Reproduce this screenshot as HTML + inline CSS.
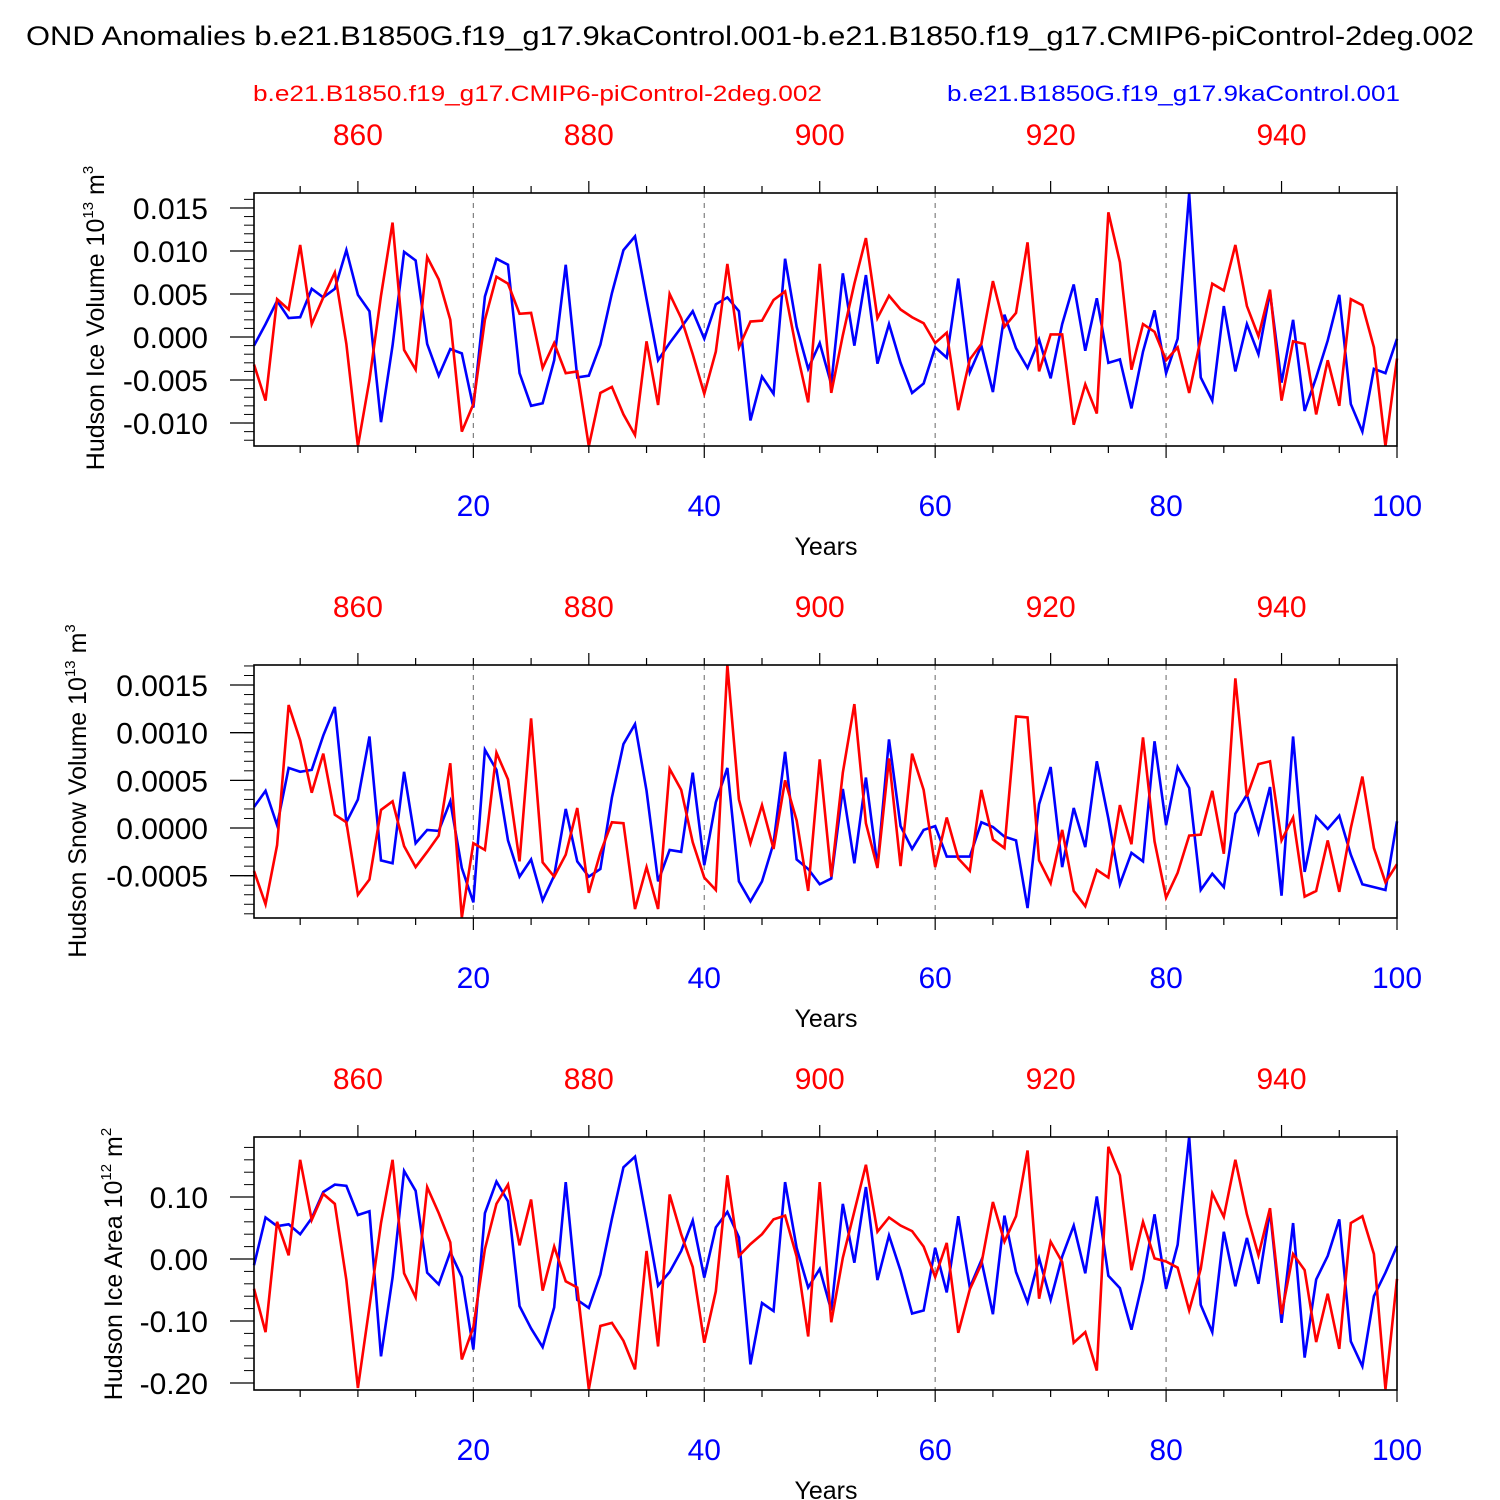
<!DOCTYPE html>
<html><head><meta charset="utf-8">
<style>
html,body{margin:0;padding:0;background:#fff;}
svg{display:block;font-family:"Liberation Sans",Arial,sans-serif;}
</style></head>
<body>
<svg id="chart" width="1500" height="1500" viewBox="0 0 1500 1500" xmlns="http://www.w3.org/2000/svg">
<rect width="1500" height="1500" fill="#fff"/>
<text x="750" y="45" text-anchor="middle" font-size="27" textLength="1448" lengthAdjust="spacingAndGlyphs">OND Anomalies b.e21.B1850G.f19_g17.9kaControl.001-b.e21.B1850.f19_g17.CMIP6-piControl-2deg.002</text>
<text x="253" y="101" font-size="22" fill="#ff0000" textLength="569" lengthAdjust="spacingAndGlyphs">b.e21.B1850.f19_g17.CMIP6-piControl-2deg.002</text>
<text x="947" y="101" font-size="22" fill="#0000ff" textLength="453" lengthAdjust="spacingAndGlyphs">b.e21.B1850G.f19_g17.9kaControl.001</text>
<g id="panels"></g>
</svg>
<script>
// ---- data ----
const bottomTickYears = [20, 40, 60, 80, 100];
const topTickYears = [860, 880, 900, 920, 940];
const yearOffset = 850;

const iceVolBlue = [-0.0010,0.0015,0.0042,0.0022,0.0023,0.0056,0.0046,0.0056,0.0101,0.0049,0.0030,-0.0099,-0.0010,0.0099,0.0089,-0.0008,-0.0045,-0.0014,-0.0019,-0.0082,0.0047,0.0091,0.0084,-0.0042,-0.0080,-0.0077,-0.0027,0.0084,-0.0047,-0.0045,-0.0009,0.0051,0.0101,0.0117,0.0044,-0.0027,-0.0007,0.0011,0.0030,-0.0002,0.0038,0.0046,0.0030,-0.0097,-0.0046,-0.0066,0.0091,0.0012,-0.0037,-0.0007,-0.0055,0.0074,-0.0010,0.0072,-0.0031,0.0015,-0.0030,-0.0065,-0.0054,-0.0012,-0.0024,0.0068,-0.0041,-0.0010,-0.0064,0.0026,-0.0013,-0.0036,-0.0003,-0.0048,0.0015,0.0061,-0.0016,0.0045,-0.0030,-0.0026,-0.0083,-0.0017,0.0031,-0.0042,-0.0002,0.0167,-0.0047,-0.0074,0.0036,-0.0040,0.0015,-0.0020,0.0052,-0.0053,0.0020,-0.0086,-0.0047,-0.0004,0.0049,-0.0078,-0.0110,-0.0037,-0.0042,-0.0002];
const iceVolRed = [-0.0032,-0.0074,0.0044,0.0032,0.0107,0.0015,0.0046,0.0075,-0.0008,-0.0127,-0.0050,0.0048,0.0133,-0.0015,-0.0038,0.0093,0.0067,0.0020,-0.0110,-0.0078,0.0020,0.0070,0.0062,0.0027,0.0028,-0.0036,-0.0007,-0.0042,-0.0040,-0.0127,-0.0065,-0.0058,-0.0090,-0.0114,-0.0005,-0.0079,0.0050,0.0022,-0.0020,-0.0066,-0.0017,0.0085,-0.0012,0.0018,0.0019,0.0043,0.0053,-0.0016,-0.0076,0.0085,-0.0065,0.0002,0.0062,0.0115,0.0022,0.0048,0.0032,0.0023,0.0016,-0.0007,0.0005,-0.0085,-0.0026,-0.0008,0.0065,0.0012,0.0028,0.0110,-0.0040,0.0003,0.0003,-0.0102,-0.0055,-0.0089,0.0145,0.0087,-0.0038,0.0015,0.0006,-0.0027,-0.0012,-0.0065,-0.0002,0.0062,0.0054,0.0107,0.0036,0.0001,0.0055,-0.0074,-0.0005,-0.0008,-0.0090,-0.0027,-0.0080,0.0044,0.0037,-0.0012,-0.0127,-0.0025];
const iceVolTicks = [0.015, 0.010, 0.005, 0.000, -0.005, -0.010];
const iceVolTickLabels = ["0.015","0.010","0.005","0.000","-0.005","-0.010"];

const snowVolBlue = [2.2,3.9,0.3,6.3,5.9,6.1,9.7,12.7,0.6,3.0,9.6,-3.4,-3.7,5.9,-1.6,-0.2,-0.3,2.8,-4.2,-7.8,8.2,6.1,-1.3,-5.1,-3.3,-7.6,-5.0,2.0,-3.5,-5.1,-4.3,3.2,8.8,10.9,3.9,-5.6,-2.3,-2.5,5.8,-3.9,2.7,6.3,-5.6,-7.7,-5.6,-1.6,8.0,-3.3,-4.3,-5.9,-5.3,4.1,-3.7,5.3,-4.0,9.3,0.2,-2.2,-0.2,0.2,-3.0,-3.0,-3.0,0.6,0.1,-0.9,-1.3,-8.4,2.5,6.4,-4.1,2.1,-2.0,7.0,1.0,-5.9,-2.6,-3.5,9.1,0.3,6.4,4.2,-6.5,-4.8,-6.2,1.5,3.5,-0.5,4.3,-7.1,9.6,-4.6,1.2,-0.1,1.3,-2.8,-5.9,-6.2,-6.5,0.7].map(v => v * 1e-4);
const snowVolRed = [-4.5,-8.0,-1.8,12.9,9.2,3.7,7.8,1.4,0.6,-7.0,-5.4,1.9,2.8,-1.9,-4.1,-2.5,-0.8,6.8,-9.4,-1.6,-2.3,7.9,5.1,-3.5,11.5,-3.6,-5.1,-2.8,2.1,-6.8,-2.6,0.6,0.5,-8.5,-4.1,-8.5,6.2,4.0,-1.5,-5.2,-6.5,17.1,3.0,-1.6,2.4,-2.2,5.0,0.8,-6.6,7.2,-5.1,5.8,13.0,0.5,-4.2,7.3,-4.0,7.8,4.0,-4.1,1.1,-3.2,-4.5,4.0,-1.2,-2.1,11.7,11.6,-3.4,-5.8,-0.2,-6.6,-8.2,-4.4,-5.2,2.4,-1.7,9.5,-1.4,-7.3,-4.7,-0.8,-0.7,3.9,-2.7,15.7,3.3,6.7,7.0,-1.3,1.1,-7.2,-6.6,-1.3,-6.7,0.0,5.4,-2.1,-5.7,-3.8].map(v => v * 1e-4);
const snowVolTicks = [0.0015, 0.0010, 0.0005, 0.0000, -0.0005];
const snowVolTickLabels = ["0.0015","0.0010","0.0005","0.0000","-0.0005"];

const iceAreaBlue = [-1,6.7,5.3,5.6,4.0,6.6,10.8,12.0,11.8,7.1,7.7,-15.7,-3.0,14.2,11.0,-2.2,-4.1,1.1,-2.9,-14.6,7.4,12.5,9.3,-7.6,-11.2,-14.2,-7.8,12.4,-6.6,-7.9,-2.5,6.5,14.8,16.5,6.3,-4.3,-2.1,1.3,6.2,-3.0,5.1,7.6,3.5,-17.0,-7.1,-8.4,12.4,1.8,-4.6,-1.6,-8.3,8.9,-0.6,11.6,-3.4,3.8,-1.9,-8.8,-8.3,1.8,-5.4,6.9,-4.6,-0.2,-8.9,7.0,-2.1,-7.0,0.1,-6.6,0.4,5.4,-2.3,10.1,-2.7,-4.7,-11.4,-3.4,7.2,-4.8,2.3,19.7,-7.4,-11.8,4.4,-4.4,3.4,-4.0,7.8,-10.3,5.8,-15.9,-3.3,0.5,6.4,-13.3,-17.3,-6.0,-2.2,2.1].map(v => v * 0.01);
const iceAreaRed = [-4.8,-11.8,6.0,0.6,16.0,6.3,10.5,8.9,-3.4,-20.8,-7.7,5.8,16.0,-2.3,-6.2,11.6,7.4,2.7,-16.2,-11.0,1.6,8.9,12.0,2.2,9.6,-5.1,2.0,-3.6,-4.6,-21.0,-10.8,-10.3,-13.2,-17.8,1.3,-14.1,10.4,4.0,-1.3,-13.5,-5.2,13.5,0.5,2.4,4.0,6.4,7.0,0.4,-12.5,12.4,-10.2,0.2,7.7,15.2,4.4,6.7,5.4,4.5,2.0,-2.9,2.6,-11.9,-4.9,-0.8,9.2,2.8,6.9,17.5,-6.4,2.8,-0.5,-13.5,-11.8,-18.0,18.1,13.5,-1.8,6.0,0.1,-0.4,-1.4,-8.3,-1.6,10.6,6.8,16.0,7.2,0.6,8.2,-8.9,0.8,-1.8,-13.4,-5.6,-14.5,5.8,6.9,0.8,-21.0,-3.2].map(v => v * 0.01);
const iceAreaTicks = [0.10, 0.00, -0.10, -0.20];
const iceAreaTickLabels = ["0.10","0.00","-0.10","-0.20"];

// ---- layout ----
const NS = "http://www.w3.org/2000/svg";
const X0 = 254, X1 = 1397;
function xScale(year) { return X0 + (year - 1) * (X1 - X0) / 99; }
function mk(tag, attrs, parent) {
  const e = document.createElementNS(NS, tag);
  for (const k in attrs) e.setAttribute(k, attrs[k]);
  parent.appendChild(e);
  return e;
}
const root = document.getElementById("panels");

function panel(opts) {
  const top = opts.top, bot = top + 253;
  const yMin = opts.yMin, yMax = opts.yMax;
  const yScale = v => bot - (v - yMin) / (yMax - yMin) * (bot - top);
  const g = mk("g", {}, root);
  
  

  // grid
  [20, 40, 60, 80].forEach(yr => {
    const l = mk("line", {x1: xScale(yr), x2: xScale(yr), y1: top, y2: bot, stroke: "#808080", "stroke-width": 1.2, "stroke-dasharray": "5 5"}, g);
    
    
  });

  // series
  function series(vals, color, nm) {
    const pts = vals.map((v, i) => xScale(i + 1).toFixed(2) + "," + yScale(v).toFixed(2)).join(" ");
    const p = mk("polyline", {points: pts, fill: "none", stroke: color, "stroke-width": 2.6, "stroke-linejoin": "miter"}, g);
    
    
  }
  series(opts.blue, "#0000ff", opts.name + "-blue-line");
  series(opts.red, "#ff0000", opts.name + "-red-line");

  // box
  const box = mk("rect", {x: X0, y: top, width: X1 - X0, height: bot - top, fill: "none", stroke: "#000", "stroke-width": 1.6}, g);
  
  

  // x ticks (bottom and top), minor every 5 years
  for (let yr = 5; yr <= 100; yr += 5) {
    const major = yr % 20 === 0;
    const len = major ? 12 : 7;
    mk("line", {x1: xScale(yr), x2: xScale(yr), y1: bot, y2: bot + len, stroke: "#000", "stroke-width": 1.2}, g);
  }
  for (let yr = 855; yr <= 950; yr += 5) {
    const major = yr % 20 === 0;
    const len = major ? 12 : 7;
    const x = xScale(yr - yearOffset);
    mk("line", {x1: x, x2: x, y1: top, y2: top - len, stroke: "#000", "stroke-width": 1.2}, g);
  }
  bottomTickYears.forEach(yr => {
    const t = mk("text", {x: xScale(yr), y: bot + 70, "text-anchor": "middle", "font-size": 30, fill: "#0000ff"}, g);
    t.textContent = String(yr);
    
    
  });
  topTickYears.forEach(yr => {
    const t = mk("text", {x: xScale(yr - yearOffset), y: top - 48, "text-anchor": "middle", "font-size": 30, fill: "#ff0000"}, g);
    t.textContent = String(yr);
    
    
  });
  const xt = mk("text", {x: 826, y: bot + 109, "text-anchor": "middle", "font-size": 25}, g);
  xt.textContent = "Years";
  
  

  // y minor ticks
  const mStep = opts.minorStep;
  const k0 = Math.ceil(yMin / mStep - 1e-6), k1 = Math.floor(yMax / mStep + 1e-6);
  for (let k = k0; k <= k1; k++) {
    const y = yScale(k * mStep);
    mk("line", {x1: X0 - 10, x2: X0, y1: y, y2: y, stroke: "#000", "stroke-width": 1}, g);
  }
  opts.ticks.forEach((v, i) => {
    const y = yScale(v);
    mk("line", {x1: X0 - 24, x2: X0, y1: y, y2: y, stroke: "#000", "stroke-width": 1.3}, g);
    const t = mk("text", {x: 208, y: y + 11, "text-anchor": "end", "font-size": 30}, g);
    t.textContent = opts.tickLabels[i];
    
    
  });

  // y title
  const yt = mk("text", {transform: `translate(${opts.titleX},${opts.titleY}) rotate(-90)`, "text-anchor": "middle", "font-size": 25}, g);
  
  
  const a = mk("tspan", {}, yt); a.textContent = opts.titleMain + " 10";
  const s1 = mk("tspan", {"font-size": 15, dy: -11}, yt); s1.textContent = opts.exp;
  const b = mk("tspan", {"font-size": 25, dy: 11}, yt); b.textContent = " m";
  const s2 = mk("tspan", {"font-size": 15, dy: -11}, yt); s2.textContent = opts.unitExp;
}

panel({name: "ice-volume", top: 193, yMin: -0.01267, yMax: 0.01674, blue: iceVolBlue, red: iceVolRed,
  ticks: iceVolTicks, tickLabels: iceVolTickLabels, minorStep: 0.001,
  titleX: 104, titleY: 318, titleMain: "Hudson Ice Volume", exp: "13", unitExp: "3"});
panel({name: "snow-volume", top: 665, yMin: -0.000944, yMax: 0.00171, blue: snowVolBlue, red: snowVolRed,
  ticks: snowVolTicks, tickLabels: snowVolTickLabels, minorStep: 0.0001,
  titleX: 86, titleY: 791, titleMain: "Hudson Snow Volume", exp: "13", unitExp: "3"});
panel({name: "ice-area", top: 1137, yMin: -0.2113, yMax: 0.1968, blue: iceAreaBlue, red: iceAreaRed,
  ticks: iceAreaTicks, tickLabels: iceAreaTickLabels, minorStep: 0.02,
  titleX: 122, titleY: 1264, titleMain: "Hudson Ice Area", exp: "12", unitExp: "2"});
</script>
</body></html>
